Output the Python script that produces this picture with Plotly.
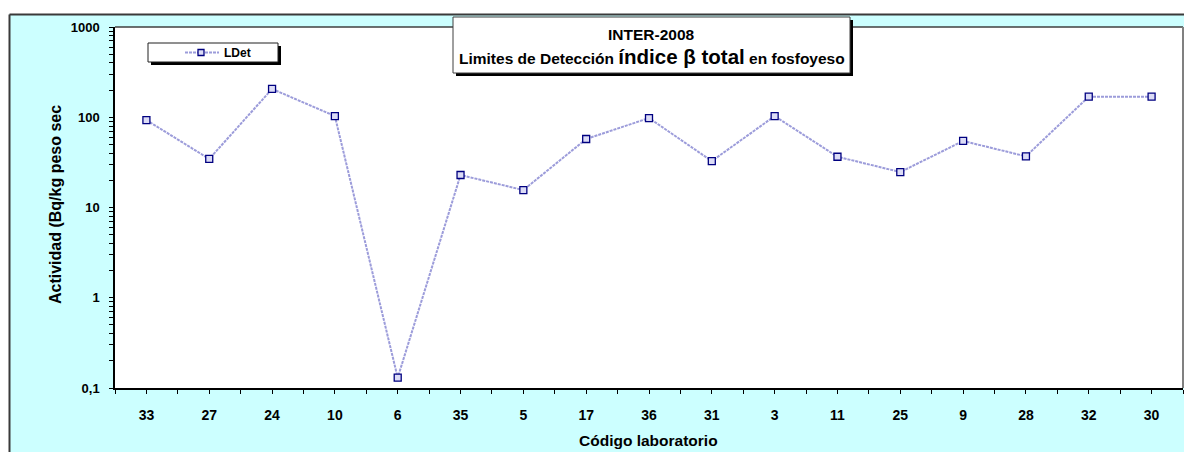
import plotly.graph_objects as go

labs = ["33", "27", "24", "10", "6", "35", "5", "17", "36", "31", "3", "11", "25", "9", "28", "32", "30"]
ldet = [93, 34.5, 206, 103, 0.13, 22.9, 15.6, 57.4, 98, 32.7, 103, 36.5, 24.7, 54.6, 36.9, 169, 169]
ytick_major = [0.1, 1, 10, 100, 1000]
ytick_major_text = ["0,1", "1", "10", "100", "1000"]

# page has an 8px body margin; work in page pixel coordinates
OFF = 8
PAGE_W, PAGE_H = 1192, 452
W, H = PAGE_W - OFF, PAGE_H - OFF
L, R, T, B = 115, 1183, 27, 388   # plot area in page px
pw, ph = R - L, B - T


def px(x):
    return (x - L) / pw


def py(y):
    return (B - y) / ph


xpos = list(range(1, len(labs) + 1))

yvals, ytext = [], []
for i, v in enumerate(ytick_major):
    yvals.append(v)
    ytext.append(ytick_major_text[i])
    if v < 1000:
        for m in range(2, 10):
            yvals.append(v * m)
            ytext.append("")

xvals, xtext = [], []
for i, lab in enumerate(labs):
    xvals.append(i + 0.5)
    xtext.append("")
    xvals.append(i + 1)
    xtext.append(lab)
xvals.append(len(labs) + 0.5)
xtext.append("")

FONT = "Liberation Sans, Arial, sans-serif"
LINE_COL = "#9C9CDA"

fig = go.Figure()
fig.add_trace(go.Scatter(
    x=xpos, y=ldet, mode="lines+markers", name="LDet",
    line=dict(color=LINE_COL, width=2, dash="3px,1px"),
    marker=dict(symbol="square", size=7, color="#DCDCF6",
                line=dict(color="#000080", width=1.3)),
    showlegend=False, cliponaxis=False,
))

shapes = []
# white strips outside outer border
shapes.append(dict(type="rect", xref="paper", yref="paper", x0=px(-20), x1=px(1300),
                   y0=py(14), y1=py(-20), fillcolor="white", line_width=0, layer="above"))
shapes.append(dict(type="rect", xref="paper", yref="paper", x0=px(-20), x1=px(9),
                   y0=py(500), y1=py(-20), fillcolor="white", line_width=0, layer="above"))
# outer border
shapes.append(dict(type="line", xref="paper", yref="paper", x0=px(9.5), x1=px(1300),
                   y0=py(14.5), y1=py(14.5), line=dict(color="#3A3A3A", width=2), layer="above"))
shapes.append(dict(type="line", xref="paper", yref="paper", x0=px(9.5), x1=px(9.5),
                   y0=py(14.5), y1=py(500), line=dict(color="#3A3A3A", width=2), layer="above"))
# plot area frame (top/right grey)
shapes.append(dict(type="line", xref="paper", yref="paper", x0=0, x1=1, y0=1, y1=1,
                   line=dict(color="#404040", width=1.5), layer="above"))
shapes.append(dict(type="line", xref="paper", yref="paper", x0=1, x1=1, y0=0, y1=1,
                   line=dict(color="#808080", width=2), layer="above"))
# title box with shadow
shapes.append(dict(type="rect", xref="paper", yref="paper", x0=px(456), x1=px(853),
                   y0=py(76), y1=py(20), fillcolor="black", line_width=0, layer="above"))
shapes.append(dict(type="rect", xref="paper", yref="paper", x0=px(453), x1=px(850),
                   y0=py(73), y1=py(17), fillcolor="white",
                   line=dict(color="#404040", width=1), layer="above"))
# legend box with shadow
shapes.append(dict(type="rect", xref="paper", yref="paper", x0=px(151), x1=px(281),
                   y0=py(65), y1=py(46), fillcolor="black", line_width=0, layer="above"))
shapes.append(dict(type="rect", xref="paper", yref="paper", x0=px(148), x1=px(278),
                   y0=py(62), y1=py(43), fillcolor="white",
                   line=dict(color="#202020", width=1), layer="above"))
shapes.append(dict(type="line", xref="paper", yref="paper", x0=px(185), x1=px(219),
                   y0=py(52.5), y1=py(52.5), line=dict(color=LINE_COL, width=2, dash="3px,1px"),
                   layer="above"))
shapes.append(dict(type="rect", xref="paper", yref="paper", x0=px(198), x1=px(204),
                   y0=py(55.5), y1=py(49.5), fillcolor="#DCDCF6",
                   line=dict(color="#000080", width=1.3), layer="above"))

annotations = [
    dict(xref="paper", yref="paper", x=px(651.5), y=py(34), text="<b>INTER-2008</b>",
         showarrow=False, font=dict(family=FONT, size=15.5, color="black"),
         xanchor="center", yanchor="middle"),
    dict(xref="paper", yref="paper", x=px(652), y=py(57),
         text="<b>Limites de Detección <span style='font-size:20.5px'>índice β total</span> en fosfoyeso</b>",
         showarrow=False, font=dict(family=FONT, size=15.5, color="black"),
         xanchor="center", yanchor="middle"),
    dict(xref="paper", yref="paper", x=px(222), y=py(52.5), text="<b>LDet</b>",
         showarrow=False, font=dict(family=FONT, size=12, color="black"),
         xanchor="left", yanchor="middle"),
    dict(xref="paper", yref="paper", x=px(56), y=py(205), text="<b>Actividad (Bq/kg peso sec</b>",
         showarrow=False, textangle=-90, font=dict(family=FONT, size=16, color="black"),
         xanchor="center", yanchor="middle"),
    dict(xref="paper", yref="paper", x=px(648), y=py(440), text="<b>Código laboratorio</b>",
         showarrow=False, font=dict(family=FONT, size=15.5, color="black"),
         xanchor="center", yanchor="middle"),
]

fig.update_layout(
    width=W, height=H,
    margin=dict(l=L - OFF, r=PAGE_W - R, t=T - OFF, b=PAGE_H - B, pad=0),
    paper_bgcolor="#CCFFFF", plot_bgcolor="white",
    font=dict(family=FONT, color="black"),
    shapes=shapes, annotations=annotations,
    xaxis=dict(range=[0.5, len(labs) + 0.5], tickmode="array", tickvals=xvals, ticktext=xtext,
               ticks="outside", ticklen=4, tickcolor="black", tickwidth=1,
               showline=True, linecolor="black", linewidth=1.5, showgrid=False, zeroline=False,
               tickfont=dict(family=FONT, size=14, color="black", weight="bold"),
               ticklabelstandoff=9),
    yaxis=dict(type="log", range=[-1, 3], tickmode="array", tickvals=yvals, ticktext=ytext,
               ticks="outside", ticklen=4, tickcolor="black", tickwidth=1,
               showline=True, linecolor="black", linewidth=1.5, showgrid=False, zeroline=False,
               tickfont=dict(family=FONT, size=13, color="black", weight="bold"),
               ticklabelstandoff=7),
)

fig.write_html("out.html")
